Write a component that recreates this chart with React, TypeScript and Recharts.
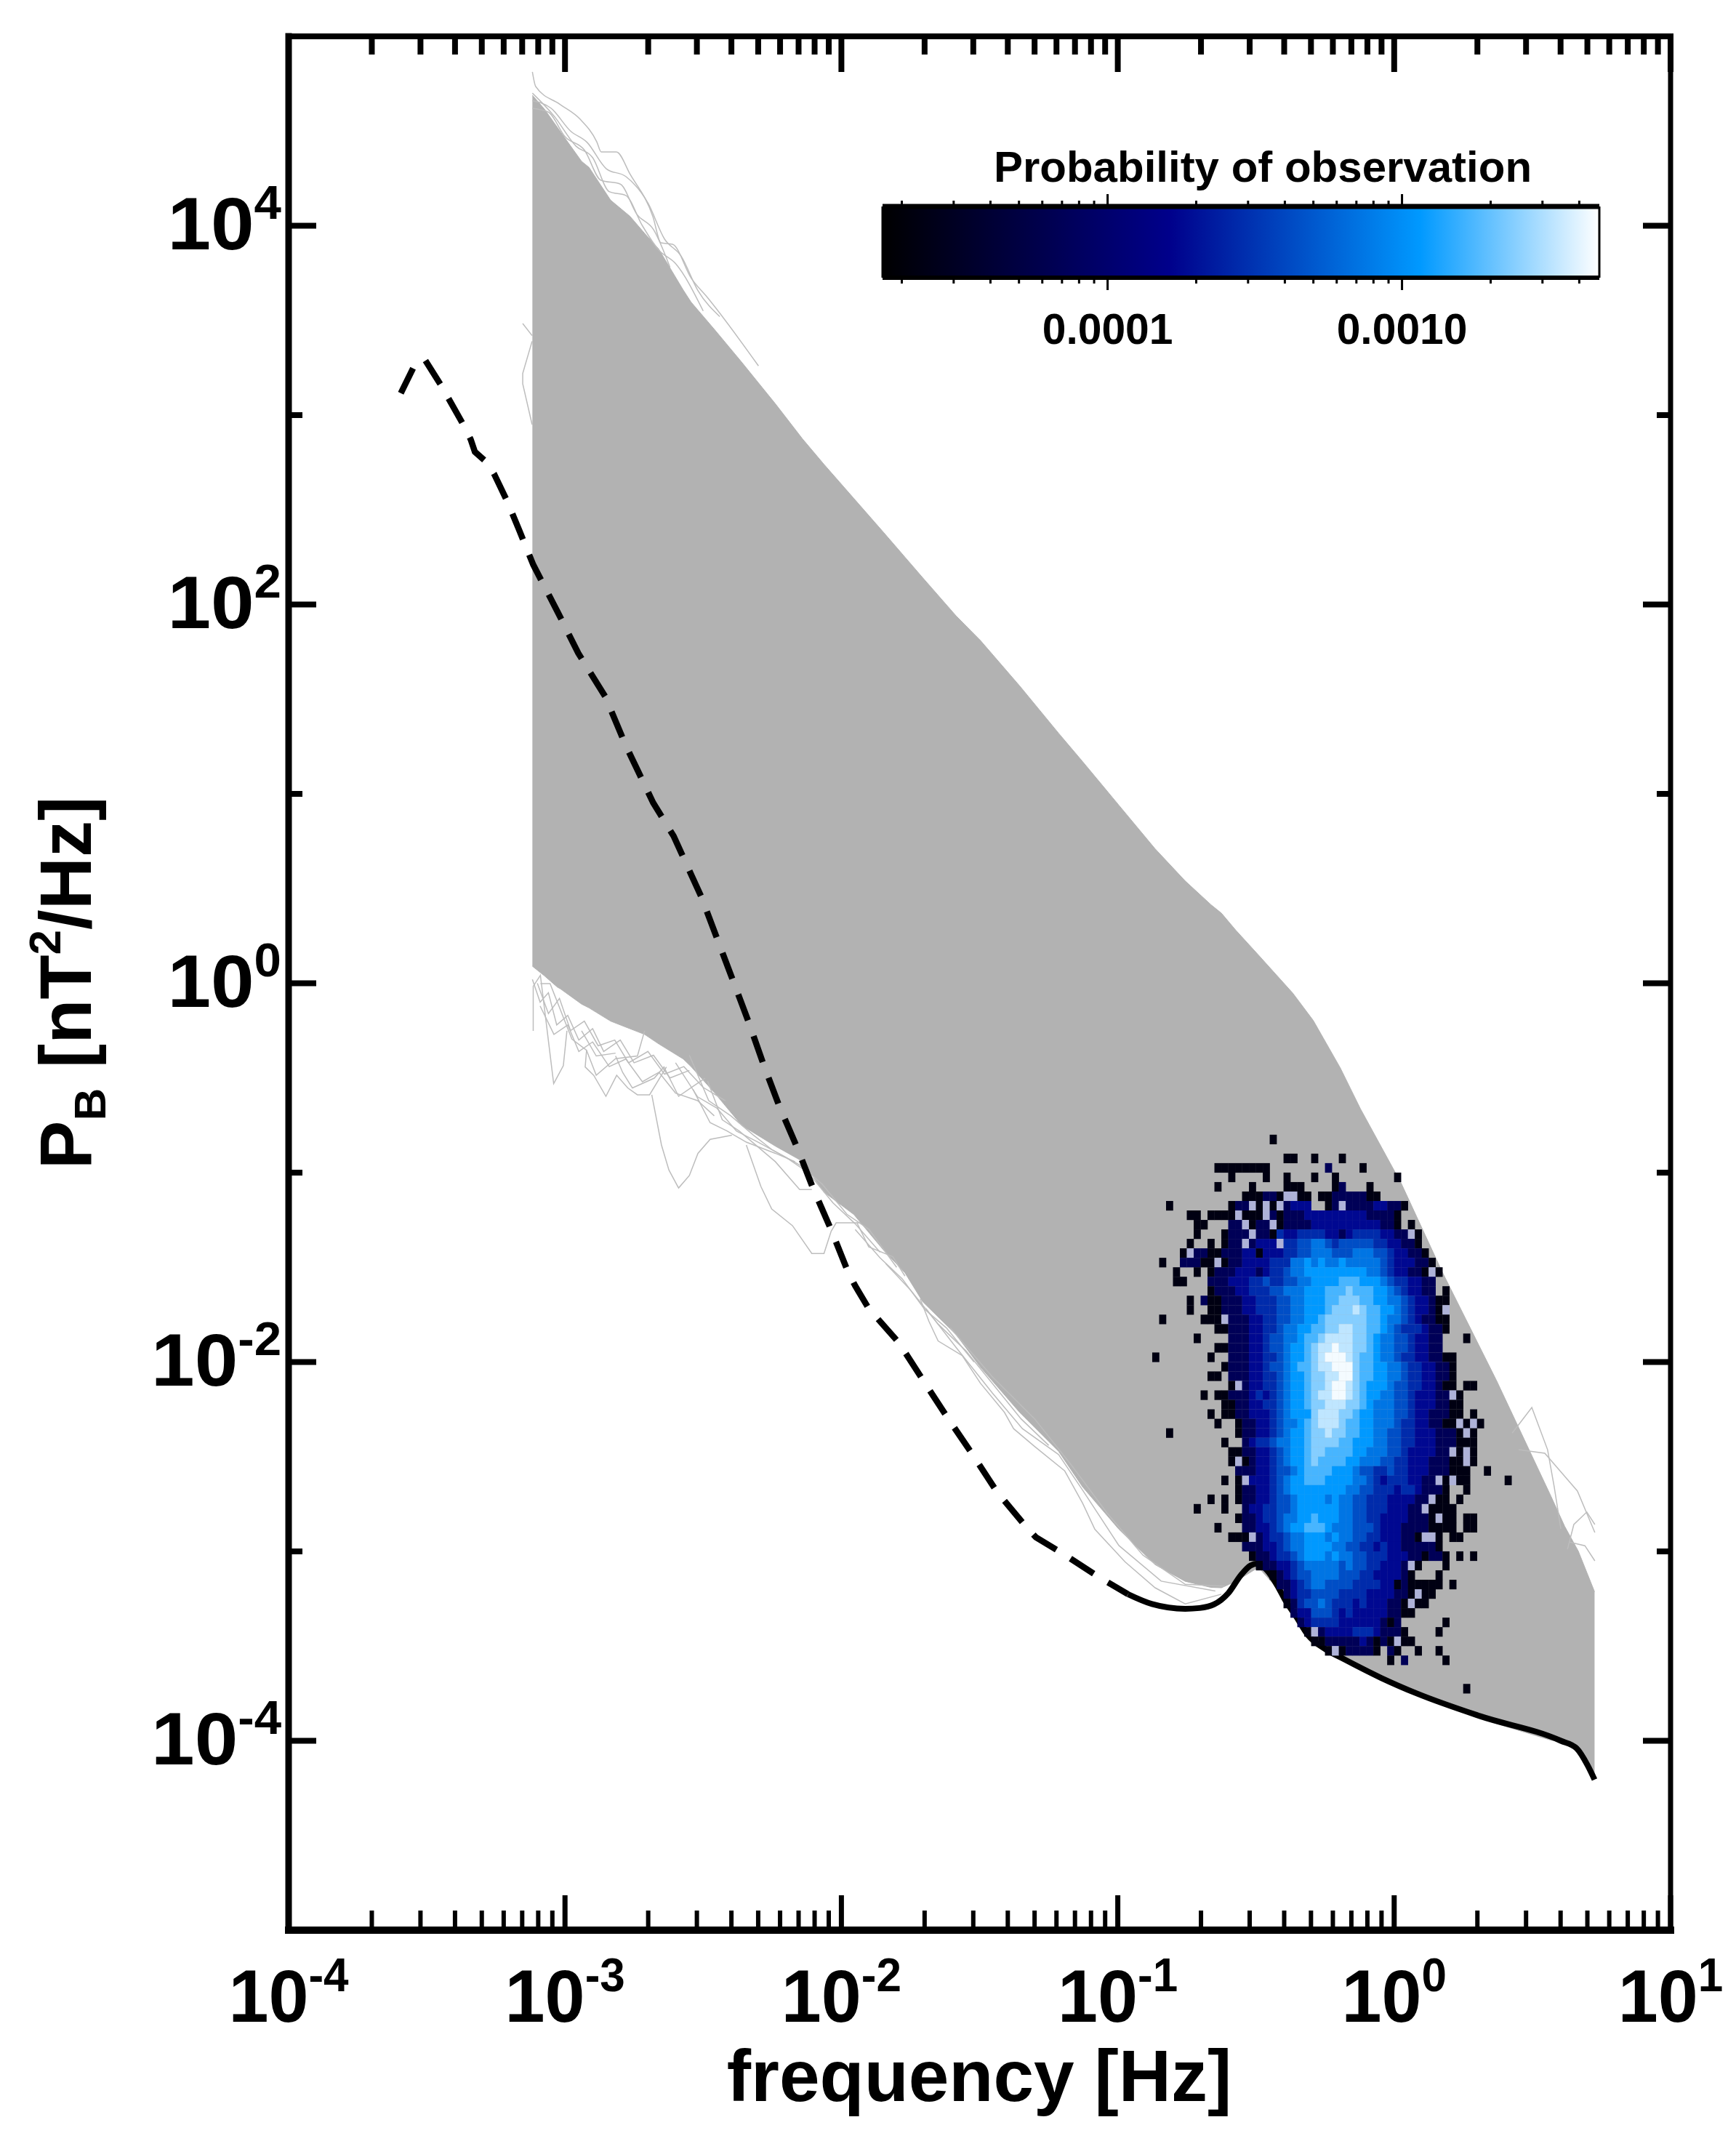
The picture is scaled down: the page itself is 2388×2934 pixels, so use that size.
import React from 'react';
import { ComposedChart, Area, Line, Scatter, XAxis, YAxis } from 'recharts';

// ---- gray band of spectra: log10(frequency), upper and lower log10(power)
const bandLogF = [-3.118,-3.075,-3.028,-3.016,-2.94,-2.913,-2.835,-2.765,-2.712,-2.661,-2.572,-2.544,-2.458,-2.361,-2.239,-2.141,-2.063,-1.955,-1.847,-1.77,-1.705,-1.585,-1.497,-1.355,-1.214,-1.127,-0.996,-0.865,-0.756,-0.663,-0.625,-0.573,-0.491,-0.367,-0.293,-0.195,-0.122,0.026,0.174,0.371,0.568,0.617,0.666,0.725];
const bandUpper = [4.689,4.617,4.52,4.495,4.34,4.308,4.135,4.05,3.96,3.877,3.66,3.597,3.45,3.28,3.06,2.875,2.74,2.56,2.38,2.25,2.14,1.94,1.81,1.57,1.32,1.17,0.94,0.71,0.54,0.415,0.37,0.28,0.149,-0.052,-0.196,-0.447,-0.663,-1.058,-1.525,-2.1,-2.711,-2.868,-2.998,-3.213];
const bandLower = [0.09,0.04,-0.02,-0.03,-0.11,-0.13,-0.2,-0.24,-0.27,-0.32,-0.4,-0.44,-0.58,-0.75,-0.86,-0.94,-1.103,-1.221,-1.41,-1.529,-1.683,-1.855,-2.027,-2.266,-2.472,-2.66,-2.883,-3.07,-3.158,-3.19,-3.192,-3.158,-3.084,-3.286,-3.43,-3.559,-3.615,-3.716,-3.795,-3.91,-3.997,-4.004,-4.061,-4.205];

// ---- curved spectra along the top of the band [log10 f, log10 P]
const upperSpectra: number[][][] = [
  [[-3.118,4.812],[-3.106,4.735],[-3.016,4.639],[-2.945,4.562],[-2.885,4.443],[-2.869,4.39],[-2.814,4.39],[-2.764,4.271],[-2.682,4.048],[-2.653,3.91],[-2.611,3.902],[-2.543,3.722],[-2.484,3.62],[-2.3,3.26]],
  [[-3.118,4.7],[-3.04,4.58],[-2.96,4.42],[-2.9,4.36],[-2.84,4.18],[-2.78,4.16],[-2.72,4.0],[-2.66,3.87],[-2.6,3.8],[-2.5,3.55]],
  [[-3.118,4.62],[-3.06,4.6],[-3.0,4.47],[-2.93,4.4],[-2.87,4.24],[-2.8,4.22],[-2.74,4.06],[-2.68,3.98],[-2.62,3.78]],
  [[-3.118,4.66],[-3.05,4.62],[-2.98,4.5],[-2.92,4.44],[-2.85,4.3],[-2.78,4.26],[-2.7,4.12],[-2.64,3.93],[-2.58,3.84],[-2.52,3.66],[-2.44,3.52]],
];

// ---- individual gray spectra visible at the lower and right edges of the band
const edgeSpectra: number[][][] = [
  [[-2.686,-0.589],[-2.651,-0.854],[-2.624,-0.986],[-2.589,-1.081],[-2.55,-1.015],[-2.519,-0.898],[-2.475,-0.824],[-2.396,-0.802]],
  [[-2.344,-0.854],[-2.291,-1.074],[-2.252,-1.192],[-2.177,-1.28],[-2.107,-1.427],[-2.063,-1.427],[-2.037,-1.309],[-2.019,-1.265],[-1.932,-1.265]],
  [[-3.115,-0.251],[-3.115,-0.016],[-3.089,0.042],[-3.041,-0.53],[-3.006,-0.435],[-2.993,-0.251]],
  [[-3.089,-0.002],[-3.054,-0.002],[-2.975,-0.295],[-2.922,-0.354],[-2.927,-0.442],[-2.896,-0.486],[-2.852,-0.597],[-2.813,-0.486],[-2.773,-0.553],[-2.738,-0.589],[-2.694,-0.589],[-2.633,-0.442]],
  [[-2.922,-0.354],[-2.887,-0.486],[-2.817,-0.398],[-2.738,-0.384],[-2.712,-0.251]],
  [[-2.817,-0.384],[-2.791,-0.472],[-2.756,-0.553],[-2.677,-0.501],[-2.642,-0.442],[-2.589,-0.597],[-2.537,-0.545],[-2.493,-0.501]],
  [[-2.537,-0.56],[-2.475,-0.736],[-2.414,-0.78],[-2.344,-0.839],[-2.239,-0.898],[-2.168,-0.942]],
  [[-2.484,-0.516],[-2.431,-0.721],[-2.37,-0.78],[-2.239,-0.942],[-2.151,-1.089],[-2.107,-1.089]],
  [[-2.94,-0.251],[-2.887,-0.384],[-2.817,-0.369]],
  [[-3.118,0.02],[-3.09,-0.1],[-3.06,-0.05],[-3.03,-0.22],[-2.99,-0.17],[-2.95,-0.3],[-2.9,-0.24],[-2.86,-0.36],[-2.8,-0.3],[-2.75,-0.42],[-2.68,-0.38],[-2.62,-0.5],[-2.55,-0.46]],
  [[-3.1,0.0],[-3.06,-0.16],[-3.02,-0.08],[-2.98,-0.25],[-2.93,-0.2],[-2.88,-0.33],[-2.82,-0.3],[-2.77,-0.42],[-2.7,-0.36],[-2.64,-0.48],[-2.57,-0.44],[-2.5,-0.55],[-2.42,-0.62]],
  [[-3.09,-0.12],[-3.04,-0.27],[-2.99,-0.22],[-2.95,-0.36],[-2.9,-0.31],[-2.84,-0.44],[-2.78,-0.4],[-2.72,-0.52],[-2.66,-0.47],[-2.6,-0.58],[-2.52,-0.62],[-2.46,-0.7]],
  [[-2.6,-0.42],[-2.52,-0.6],[-2.45,-0.66],[-2.38,-0.78],[-2.3,-0.84],[-2.2,-0.92],[-2.12,-1.0],[-2.03,-1.16],[-1.95,-1.27],[-1.86,-1.42]],
  [[-2.55,-0.38],[-2.48,-0.62],[-2.4,-0.7],[-2.32,-0.8],[-2.25,-0.88],[-2.15,-0.96],[-2.07,-1.06],[-1.98,-1.22],[-1.9,-1.3],[-1.8,-1.5]],
  [[-1.95,-1.3],[-1.86,-1.45],[-1.78,-1.56],[-1.7,-1.72],[-1.62,-1.82],[-1.52,-2.0]],
  [[-1.84,-1.48],[-1.75,-1.62],[-1.65,-1.8],[-1.55,-1.94],[-1.45,-2.12],[-1.35,-2.3],[-1.25,-2.44]],
  [[-1.944,-1.264],[-1.901,-1.392],[-1.814,-1.444],[-1.77,-1.546]],
  [[-1.715,-1.666],[-1.683,-1.786],[-1.65,-1.889],[-1.563,-1.966],[-1.497,-2.112],[-1.41,-2.266],[-1.377,-2.352],[-1.301,-2.446],[-1.192,-2.575],[-1.127,-2.746],[-1.083,-2.883],[-0.974,-3.055],[-0.865,-3.192],[-0.756,-3.277],[-0.625,-3.226]],
  [[-1.694,-1.718],[-1.585,-1.923],[-1.454,-2.163],[-1.345,-2.352],[-1.214,-2.489],[-1.127,-2.677],[-0.996,-2.969],[-0.843,-3.157],[-0.647,-3.209]],
  [[-1.606,-1.82],[-1.454,-2.078],[-1.301,-2.3],[-1.17,-2.54],[-1.039,-2.797],[-0.909,-3.02],[-0.756,-3.174],[-0.614,-3.183]],
  [[-3.119,3.42],[-3.153,3.484]],
  [[-3.119,3.39],[-3.153,3.22],[-3.153,3.165],[-3.119,2.95]],
  [[0.427,-2.375],[0.498,-2.24],[0.555,-2.463],[0.579,-2.659],[0.603,-2.881]],
  [[0.45,-2.463],[0.545,-2.482],[0.663,-2.681],[0.726,-2.9]],
  [[0.627,-2.989],[0.65,-2.858],[0.697,-2.792],[0.726,-2.858]],
  [[0.632,-2.95],[0.69,-2.97],[0.726,-3.05]],
];

// ---- black reference curve: dashed part then solid part
const dashedLogF = [-3.594,-3.545,-3.508,-3.449,-3.368,-3.341,-3.326,-3.287,-3.257,-3.21,-3.165,-3.115,-3.026,-2.952,-2.854,-2.78,-2.681,-2.607,-2.506,-2.449,-2.392,-2.335,-2.282,-2.225,-2.16,-2.103,-2.037,-1.977,-1.95,-1.901,-1.792,-1.705,-1.617,-1.525,-1.437,-1.334,-1.296,-1.208,-1.072,-0.963];
const dashedLogP = [3.116,3.261,3.295,3.159,2.95,2.871,2.806,2.756,2.691,2.548,2.39,2.21,1.959,1.743,1.513,1.255,0.953,0.777,0.454,0.233,0.013,-0.207,-0.428,-0.648,-0.868,-1.081,-1.302,-1.521,-1.598,-1.718,-1.898,-2.095,-2.292,-2.489,-2.686,-2.866,-2.926,-3.003,-3.132,-3.226];
const solidLogF = [-0.963,-0.876,-0.756,-0.704,-0.652,-0.6,-0.555,-0.52,-0.494,-0.46,-0.423,-0.397,-0.355,-0.31,-0.25,-0.18,-0.047,0.085,0.311,0.603,0.66,0.7,0.725];
const solidLogP = [-3.226,-3.278,-3.303,-3.299,-3.28,-3.22,-3.126,-3.075,-3.064,-3.1,-3.18,-3.25,-3.343,-3.445,-3.515,-3.57,-3.668,-3.752,-3.87,-4.0,-4.04,-4.13,-4.205];

// ---- occurrence histogram. One entry per row of bins, top to bottom: [first column, levels]
// '.' empty, 'x' pale bin, 0-9,a rising probability
const heatRows: [number, string][] = [
  [17,'0'],
  [0,''],
  [19,'00..0...0'],
  [9,'00000000........1....0'],
  [11,'0....0..0...0..0........0'],
  [9,'0....0....000....01...0'],
  [13,'000110xx00.001111100'],
  [2,'0........011x0x0x1222..01x111122110'],
  [5,'00.0000x000x1011122222222211110'],
  [6,'00...11x011x011112222222222110.0'],
  [6,'0...0111x1103223333221233332211x0'],
  [5,'0..0.011x1222x33445543444443322110'],
  [4,'0x1100111220222334455544455544322110'],
  [1,'0..11100x0112222333556565565555543222110'],
  [3,'0..0.01112221233455666666666554322110x0'],
  [3,'00...111222334334455666677766654332211'],
  [8,'011122333445556667778777665432211.0'],
  [5,'0.100111223334455666778887766554322100'],
  [5,'0..0011122333445566678889877665432210x'],
  [1,'0.....000x11122334455667888888776554321100'],
  [9,'0011122334556677889988776543332110'],
  [6,'0....1112234455677899998876554432211...0'],
  [9,'00111223445667899a998876554432211'],
  [0,'0.......0..11122334566789aaa9877655433221100'],
  [10,'0111223445677899aaa877665543322110'],
  [8,'00.1112233456678899aa877665543322110'],
  [11,'0x1223345667889aa9876665443322100.00'],
  [7,'0.00111232345667899aa987665544322211x0'],
  [10,'00112233456678899988765554432221100'],
  [8,'0.00112223456668999887665554432211100.0'],
  [9,'0..01122345567899987766555433221100x0x0'],
  [2,'0.........011223456678898877665544332221110x0'],
  [10,'0..1233455667888877666554433222111000'],
  [11,'00112234566788777766555443222211x0x0'],
  [11,'0x01223456678777766555443322211100x0'],
  [12,'1112234456777766654433433222111000..0'],
  [10,'0.0x222345667776666554323332211x0x00.....0'],
  [12,'0112234566666666554433323321110..0'],
  [8,'0.0.0112234456666565544333222211x00.0'],
  [6,'0...0..12233445666666554433322211x0000'],
  [12,'01123345566766655443322221110x00.00'],
  [9,'0...1122345667776555444322211110000.00'],
  [11,'000x123345566656554433222110xx0.00'],
  [13,'11122345566665544332322111110'],
  [14,'01123345666565544333222110110.0.0'],
  [15,'0112234555554544332221x0...0'],
  [17,'012344555544433222210...0'],
  [18,'112345544443333220100000.0'],
  [19,'1233444433332222110x00'],
  [19,'013445433323222110x00'],
  [20,'122444323222221100'],
  [21,'123333222222101......0'],
  [22,'0x1222233321110....0'],
  [23,'001111121010x00'],
  [25,'0x011110.10..0..0'],
  [34,'0.1.....0'],
  [0,''],
  [0,''],
  [45,'0'],
];
const heatFirstLogF = -0.8625;
const heatFirstLogP = -0.825;
const heatStepF = 0.025;
const heatStepP = 0.05;
const levelChars = '0123456789a';
const levelProb = [2.3e-5,7e-5,1.8e-4,2.8e-4,4.4e-4,7.3e-4,1.15e-3,1.7e-3,2.4e-3,3.3e-3,4.4e-3];

// ---- colour bar
const barMin = 1.72e-5;
const barMax = 4.68e-3;
const barLabels = [1e-4, 1e-3];
const barTicks = [2e-5,3e-5,4e-5,5e-5,6e-5,7e-5,8e-5,9e-5,1e-4,2e-4,3e-4,4e-4,5e-4,6e-4,7e-4,8e-4,9e-4,1e-3,2e-3,3e-3,4e-3];
const colorStops: [number, number[]][] = [[0,[0,0,0]],[0.4,[0,0,139]],[0.75,[0,153,255]],[1,[255,255,255]]];

// ---- main axes
const xDecades = [1e-4,1e-3,1e-2,1e-1,1,10];
const xMultipliers = [2,3,4,5,6,7,8,9];
const yTicks = [1e4,1e3,1e2,1e1,1,1e-1,1e-2,1e-3,1e-4];
const yMajor = [1e4,1e2,1,1e-2,1e-4];

const FONT = '"Liberation Sans", Arial, sans-serif';
const GRAY = '#b2b2b2';
const EDGE = '#bdbdbd';

const toPts = (xs: number[], ys: number[]) => xs.map((x, i) => ({ f: 10 ** x, p: 10 ** ys[i] }));
const pairs = (s: number[][]) => s.map(([x, y]) => ({ f: 10 ** x, p: 10 ** y }));
const bandData = bandLogF.map((x, i) => ({ f: 10 ** x, band: [10 ** bandLower[i], 10 ** bandUpper[i]] }));
const dashedData = toPts(dashedLogF, dashedLogP);
const solidData = toPts(solidLogF, solidLogP);
const upperData = upperSpectra.map(pairs);
const edgeData = edgeSpectra.map(pairs);
const xTicks = xDecades.flatMap((d, i) => (i < xDecades.length - 1 ? [d, ...xMultipliers.map((m) => d * m)] : [d]));

const probColor = (v: number) => {
  const t = Math.min(1, Math.max(0, (Math.log10(v) - Math.log10(barMin)) / (Math.log10(barMax) - Math.log10(barMin))));
  for (let i = 1; i < colorStops.length; i++) {
    if (t <= colorStops[i][0]) {
      const [t0, c0] = colorStops[i - 1];
      const [t1, c1] = colorStops[i];
      const u = (t - t0) / (t1 - t0);
      const c = c0.map((a, k) => Math.round(a + (c1[k] - a) * u));
      return `rgb(${c[0]},${c[1]},${c[2]})`;
    }
  }
  return '#fff';
};

const heatData = heatRows.flatMap(([start, cells], r) =>
  cells.split('').flatMap((ch, k) => {
    if (ch === '.') return [];
    const c = start + k;
    const color = ch === 'x' ? '#aeb2d8' : probColor(levelProb[levelChars.indexOf(ch)]);
    return [{ f: 10 ** (heatFirstLogF + c * heatStepF), p: 10 ** (heatFirstLogP - r * heatStepP), color }];
  })
);

const isPower = (v: number) => Math.abs(Math.log10(v) - Math.round(Math.log10(v))) < 1e-6;
const exponent = (v: number) => String(Math.round(Math.log10(v)));
const isYMajor = (v: number) => yMajor.some((m) => Math.abs(Math.log10(m) - Math.log10(v)) < 1e-6);

const BottomTick = (props: any) => {
  const { x, y, payload } = props;
  const major = isPower(payload.value);
  return (
    <g>
      <line x1={x} x2={x} y1={y} y2={y - (major ? 48 : 27)} stroke="#000" strokeWidth={major ? 7 : 6} />
      {major && (
        <text transform={`translate(${x},${2781}) scale(0.97,1)`} textAnchor="middle" fontFamily={FONT} fontWeight="bold" fill="#000">
          <tspan fontSize={102}>10</tspan>
          <tspan fontSize={64} dy={-42}>{exponent(payload.value)}</tspan>
        </text>
      )}
    </g>
  );
};
const TopTick = (props: any) => {
  const { x, y, payload } = props;
  const major = isPower(payload.value);
  return <line x1={x} x2={x} y1={y} y2={y + (major ? 49 : 25)} stroke="#000" strokeWidth={8} />;
};
const LeftTick = (props: any) => {
  const { x, y, payload } = props;
  const major = isYMajor(payload.value);
  return (
    <g>
      <line x1={x} x2={x + (major ? 38 : 19)} y1={y} y2={y} stroke="#000" strokeWidth={8} />
      {major && (
        <text transform={`translate(${387},${y + 32}) scale(1.05,1)`} textAnchor="end" fontFamily={FONT} fontWeight="bold" fill="#000">
          <tspan fontSize={102}>10</tspan>
          <tspan fontSize={64} dy={-42}>{exponent(payload.value)}</tspan>
        </text>
      )}
    </g>
  );
};
const RightTick = (props: any) => {
  const { x, y, payload } = props;
  const major = isYMajor(payload.value);
  return <line x1={x} x2={x - (major ? 38 : 19)} y1={y} y2={y} stroke="#000" strokeWidth={8} />;
};

const XTitle = () => (
  <text x={1347} y={2890} textAnchor="middle" fontFamily={FONT} fontWeight="bold" fontSize={100} fill="#000">
    frequency [Hz]
  </text>
);
const YTitle = () => (
  <text transform="translate(125,1352) rotate(-90)" textAnchor="middle" fontFamily={FONT} fontWeight="bold" fontSize={100} fill="#000">
    <tspan>P</tspan>
    <tspan fontSize={62} dy={20}>B</tspan>
    <tspan dy={-20}> [nT</tspan>
    <tspan fontSize={62} dy={-42}>2</tspan>
    <tspan dy={42}>/Hz]</tspan>
  </text>
);

const HeatCell = (props: any) => (
  <rect x={props.cx - 4.9} y={props.cy - 6.6} width={9.8} height={13.2} fill={props.payload.color} />
);

const isBarLabel = (v: number) => barLabels.some((m) => Math.abs(m / v - 1) < 1e-6);
const barTickSizes = (v: number) => (isBarLabel(v) ? 17 : 8);
const BarBottomTick = (props: any) => {
  const { x, y, payload } = props;
  return (
    <g>
      <line x1={x} x2={x} y1={y} y2={y + barTickSizes(payload.value)} stroke="#000" strokeWidth={3} />
      {isBarLabel(payload.value) && (
        <text transform={`translate(${x},${y + 91}) scale(1.05,1.06)`} textAnchor="middle" fontFamily={FONT} fontWeight="bold" fontSize={56} fill="#000">
          {payload.value.toFixed(4)}
        </text>
      )}
    </g>
  );
};
const BarTopTick = (props: any) => {
  const { x, y, payload } = props;
  return <line x1={x} x2={x} y1={y} y2={y - barTickSizes(payload.value)} stroke="#000" strokeWidth={3} />;
};
const BarTitle = () => (
  <text x={637} y={70} textAnchor="middle" fontFamily={FONT} fontWeight="bold" fontSize={60} fill="#000">
    Probability of observation
  </text>
);

const barData = [{ p: barMin, v: 1 }, { p: barMax, v: 1 }];

export default function App() {
  return (
    <div style={{ position: 'absolute', left: 0, top: 0, width: 2388, height: 2934, background: '#fff', overflow: 'hidden' }}>
      <ComposedChart width={2388} height={2934} margin={{ left: 396, right: 89, top: 49, bottom: 278 }}>
        <XAxis xAxisId="b" dataKey="f" type="number" scale="log" domain={[1e-4, 10]} allowDataOverflow orientation="bottom" height={1}
          ticks={xTicks} interval={0} tickSize={0} tickMargin={0} tickLine={false} tick={BottomTick}
          axisLine={{ stroke: '#000', strokeWidth: 10, strokeLinecap: 'square' }} label={{ content: XTitle }} />
        <XAxis xAxisId="t" dataKey="f" type="number" scale="log" domain={[1e-4, 10]} allowDataOverflow orientation="top" height={1}
          ticks={xTicks} interval={0} tickSize={0} tickMargin={0} tickLine={false} tick={TopTick}
          axisLine={{ stroke: '#000', strokeWidth: 8, strokeLinecap: 'square' }} />
        <YAxis yAxisId="l" dataKey="p" type="number" scale="log" domain={[1e-5, 1e5]} allowDataOverflow orientation="left" width={1}
          ticks={yTicks} interval={0} tickSize={0} tickMargin={0} tickLine={false} tick={LeftTick}
          axisLine={{ stroke: '#000', strokeWidth: 9, strokeLinecap: 'square' }} label={{ content: YTitle }} />
        <YAxis yAxisId="r" dataKey="p" type="number" scale="log" domain={[1e-5, 1e5]} allowDataOverflow orientation="right" width={1}
          ticks={yTicks} interval={0} tickSize={0} tickMargin={0} tickLine={false} tick={RightTick}
          axisLine={{ stroke: '#000', strokeWidth: 7, strokeLinecap: 'square' }} />
        <Area xAxisId="b" yAxisId="l" data={bandData} dataKey="band" type="linear" fill={GRAY} fillOpacity={1} stroke={GRAY} strokeWidth={1} dot={false} activeDot={false} isAnimationActive={false} />
        {upperData.map((d, i) => (
          <Line key={`u${i}`} xAxisId="b" yAxisId="l" data={d} dataKey="p" type="monotone" stroke={EDGE} strokeWidth={1.5} dot={false} activeDot={false} isAnimationActive={false} />
        ))}
        {edgeData.map((d, i) => (
          <Line key={`e${i}`} xAxisId="b" yAxisId="l" data={d} dataKey="p" type="linear" stroke={EDGE} strokeWidth={1.5} dot={false} activeDot={false} isAnimationActive={false} />
        ))}
        <Scatter xAxisId="b" yAxisId="l" data={heatData} dataKey="p" shape={HeatCell} isAnimationActive={false} />
        <Line xAxisId="b" yAxisId="l" data={dashedData} dataKey="p" type="linear" stroke="#000" strokeWidth={8.5} strokeDasharray="38 23" dot={false} activeDot={false} isAnimationActive={false} />
        <Line xAxisId="b" yAxisId="l" data={solidData} dataKey="p" type="monotone" stroke="#000" strokeWidth={8} dot={false} activeDot={false} isAnimationActive={false} />
      </ComposedChart>

      <div style={{ position: 'absolute', left: 1100, top: 180, width: 1250, height: 320 }}>
        <ComposedChart width={1250} height={320} margin={{ left: 113, right: 149, top: 103, bottom: 117 }}>
          <defs>
            <linearGradient id="probBar" x1="0" x2="1" y1="0" y2="0">
              {colorStops.map(([t, c]) => (
                <stop key={t} offset={t} stopColor={`rgb(${c[0]},${c[1]},${c[2]})`} />
              ))}
            </linearGradient>
          </defs>
          <XAxis xAxisId="b" dataKey="p" type="number" scale="log" domain={[barMin, barMax]} allowDataOverflow orientation="bottom" height={1}
            ticks={barTicks} interval={0} tickSize={0} tickMargin={0} tickLine={false} tick={BarBottomTick}
            axisLine={{ stroke: '#000', strokeWidth: 6 }} />
          <XAxis xAxisId="t" dataKey="p" type="number" scale="log" domain={[barMin, barMax]} allowDataOverflow orientation="top" height={1}
            ticks={barTicks} interval={0} tickSize={0} tickMargin={0} tickLine={false} tick={BarTopTick}
            axisLine={{ stroke: '#000', strokeWidth: 7 }} label={{ content: BarTitle }} />
          <YAxis yAxisId="l" type="number" domain={[0, 1]} orientation="left" width={1} tick={false} axisLine={{ stroke: '#000', strokeWidth: 3 }} tickLine={false} />
          <YAxis yAxisId="r" type="number" domain={[0, 1]} orientation="right" width={1} tick={false} axisLine={{ stroke: '#000', strokeWidth: 3 }} tickLine={false} />
          <Area xAxisId="b" yAxisId="l" data={barData} dataKey="v" type="linear" fill="url(#probBar)" fillOpacity={1} stroke="none" dot={false} activeDot={false} isAnimationActive={false} />
        </ComposedChart>
      </div>
    </div>
  );
}
